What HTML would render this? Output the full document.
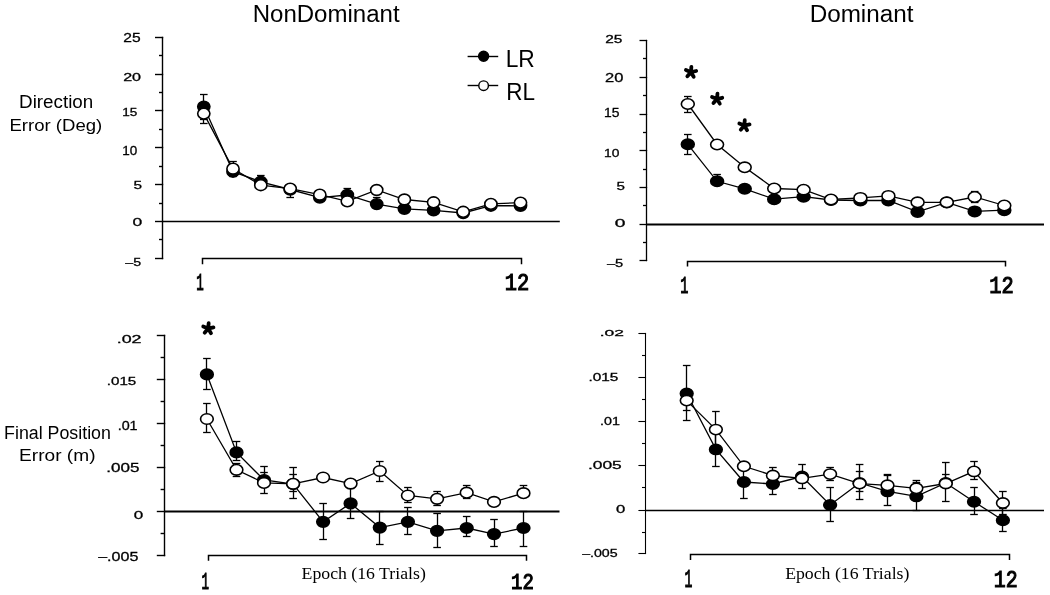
<!DOCTYPE html>
<html><head><meta charset="utf-8"><style>
html,body{margin:0;padding:0;background:#fff;width:1050px;height:595px;overflow:hidden}
svg{display:block;font-family:"Liberation Sans",sans-serif;will-change:transform}
</style></head><body>
<svg width="1050" height="595" viewBox="0 0 1050 595">
<g stroke="#000" stroke-linecap="butt">
<line x1="162.50" y1="36.80" x2="162.50" y2="259.20" stroke-width="1.4"/>
<line x1="155.00" y1="37.50" x2="163.20" y2="37.50" stroke-width="1.4"/>
<line x1="155.00" y1="74.50" x2="163.20" y2="74.50" stroke-width="1.4"/>
<line x1="155.00" y1="110.50" x2="163.20" y2="110.50" stroke-width="1.4"/>
<line x1="155.00" y1="147.50" x2="163.20" y2="147.50" stroke-width="1.4"/>
<line x1="155.00" y1="184.50" x2="163.20" y2="184.50" stroke-width="1.4"/>
<line x1="155.00" y1="221.50" x2="163.20" y2="221.50" stroke-width="1.4"/>
<line x1="155.00" y1="258.50" x2="163.20" y2="258.50" stroke-width="1.4"/>
<line x1="159.00" y1="55.50" x2="162.50" y2="55.50" stroke-width="1.4"/>
<line x1="159.00" y1="92.50" x2="162.50" y2="92.50" stroke-width="1.4"/>
<line x1="159.00" y1="129.50" x2="162.50" y2="129.50" stroke-width="1.4"/>
<line x1="159.00" y1="166.50" x2="162.50" y2="166.50" stroke-width="1.4"/>
<line x1="159.00" y1="203.50" x2="162.50" y2="203.50" stroke-width="1.4"/>
<line x1="159.00" y1="239.50" x2="162.50" y2="239.50" stroke-width="1.4"/>
<line x1="162.20" y1="221.50" x2="559.80" y2="221.50" stroke-width="1.7"/>
<polyline fill="none" stroke-width="1.5" points="202.50,264.30 202.50,258.50 521.50,258.50 521.50,264.30"/>
<polyline fill="none" stroke-width="1.3" points="203.80,106.60 233.00,171.70 260.80,181.80 290.20,189.50 319.80,197.60 347.30,195.00 376.70,204.10 404.40,208.80 433.60,210.30 463.20,213.00 490.90,205.70 520.50,205.80"/>
<polyline fill="none" stroke-width="1.3" points="203.80,113.60 233.00,168.70 260.80,185.20 290.20,188.60 319.80,194.70 347.30,201.30 376.70,190.00 404.40,199.50 433.60,202.30 463.20,211.80 490.90,203.90 520.50,202.60"/>
<line x1="203.50" y1="106.60" x2="203.50" y2="94.10" stroke-width="1.3"/>
<line x1="200.00" y1="94.50" x2="207.60" y2="94.50" stroke-width="1.3"/>
<line x1="203.50" y1="106.60" x2="203.50" y2="119.10" stroke-width="1.3"/>
<line x1="200.00" y1="119.50" x2="207.60" y2="119.50" stroke-width="1.3"/>
<line x1="203.50" y1="113.60" x2="203.50" y2="103.90" stroke-width="1.3"/>
<line x1="200.00" y1="103.50" x2="207.60" y2="103.50" stroke-width="1.3"/>
<line x1="203.50" y1="113.60" x2="203.50" y2="123.30" stroke-width="1.3"/>
<line x1="200.00" y1="123.50" x2="207.60" y2="123.50" stroke-width="1.3"/>
<line x1="233.50" y1="168.70" x2="233.50" y2="161.20" stroke-width="1.3"/>
<line x1="229.20" y1="161.50" x2="236.80" y2="161.50" stroke-width="1.3"/>
<line x1="233.50" y1="168.70" x2="233.50" y2="176.20" stroke-width="1.3"/>
<line x1="229.20" y1="176.50" x2="236.80" y2="176.50" stroke-width="1.3"/>
<line x1="260.50" y1="181.80" x2="260.50" y2="175.80" stroke-width="1.3"/>
<line x1="257.00" y1="175.50" x2="264.60" y2="175.50" stroke-width="1.3"/>
<line x1="260.50" y1="181.80" x2="260.50" y2="187.80" stroke-width="1.3"/>
<line x1="257.00" y1="187.50" x2="264.60" y2="187.50" stroke-width="1.3"/>
<line x1="290.50" y1="188.60" x2="290.50" y2="197.40" stroke-width="1.3"/>
<line x1="286.40" y1="197.50" x2="294.00" y2="197.50" stroke-width="1.3"/>
<line x1="347.50" y1="195.00" x2="347.50" y2="188.00" stroke-width="1.3"/>
<line x1="343.50" y1="188.50" x2="351.10" y2="188.50" stroke-width="1.3"/>
<line x1="347.50" y1="195.00" x2="347.50" y2="202.00" stroke-width="1.3"/>
<line x1="343.50" y1="202.50" x2="351.10" y2="202.50" stroke-width="1.3"/>
<line x1="376.50" y1="204.10" x2="376.50" y2="197.40" stroke-width="1.3"/>
<line x1="372.90" y1="197.50" x2="380.50" y2="197.50" stroke-width="1.3"/>
<ellipse cx="203.80" cy="106.60" rx="6.1" ry="5.4" fill="#000" stroke-width="1.6"/>
<ellipse cx="233.00" cy="171.70" rx="6.1" ry="5.4" fill="#000" stroke-width="1.6"/>
<ellipse cx="260.80" cy="181.80" rx="6.1" ry="5.4" fill="#000" stroke-width="1.6"/>
<ellipse cx="290.20" cy="189.50" rx="6.1" ry="5.4" fill="#000" stroke-width="1.6"/>
<ellipse cx="319.80" cy="197.60" rx="6.1" ry="5.4" fill="#000" stroke-width="1.6"/>
<ellipse cx="347.30" cy="195.00" rx="6.1" ry="5.4" fill="#000" stroke-width="1.6"/>
<ellipse cx="376.70" cy="204.10" rx="6.1" ry="5.4" fill="#000" stroke-width="1.6"/>
<ellipse cx="404.40" cy="208.80" rx="6.1" ry="5.4" fill="#000" stroke-width="1.6"/>
<ellipse cx="433.60" cy="210.30" rx="6.1" ry="5.4" fill="#000" stroke-width="1.6"/>
<ellipse cx="463.20" cy="213.00" rx="6.1" ry="5.4" fill="#000" stroke-width="1.6"/>
<ellipse cx="490.90" cy="205.70" rx="6.1" ry="5.4" fill="#000" stroke-width="1.6"/>
<ellipse cx="520.50" cy="205.80" rx="6.1" ry="5.4" fill="#000" stroke-width="1.6"/>
<ellipse cx="203.80" cy="113.60" rx="6.1" ry="5.4" fill="#fff" stroke-width="1.6"/>
<ellipse cx="233.00" cy="168.70" rx="6.1" ry="5.4" fill="#fff" stroke-width="1.6"/>
<ellipse cx="260.80" cy="185.20" rx="6.1" ry="5.4" fill="#fff" stroke-width="1.6"/>
<ellipse cx="290.20" cy="188.60" rx="6.1" ry="5.4" fill="#fff" stroke-width="1.6"/>
<ellipse cx="319.80" cy="194.70" rx="6.1" ry="5.4" fill="#fff" stroke-width="1.6"/>
<ellipse cx="347.30" cy="201.30" rx="6.1" ry="5.4" fill="#fff" stroke-width="1.6"/>
<ellipse cx="376.70" cy="190.00" rx="6.1" ry="5.4" fill="#fff" stroke-width="1.6"/>
<ellipse cx="404.40" cy="199.50" rx="6.1" ry="5.4" fill="#fff" stroke-width="1.6"/>
<ellipse cx="433.60" cy="202.30" rx="6.1" ry="5.4" fill="#fff" stroke-width="1.6"/>
<ellipse cx="463.20" cy="211.80" rx="6.1" ry="5.4" fill="#fff" stroke-width="1.6"/>
<ellipse cx="490.90" cy="203.90" rx="6.1" ry="5.4" fill="#fff" stroke-width="1.6"/>
<ellipse cx="520.50" cy="202.60" rx="6.1" ry="5.4" fill="#fff" stroke-width="1.6"/>
<line x1="467.60" y1="56.50" x2="498.20" y2="56.50" stroke-width="1.4"/>
<circle cx="483.6" cy="56.2" r="4.9" fill="#000" stroke-width="1.6"/>
<line x1="467.60" y1="85.50" x2="498.20" y2="85.50" stroke-width="1.4"/>
<circle cx="483.6" cy="85.7" r="4.8" fill="#fff" stroke-width="1.4"/>
<line x1="646.50" y1="39.85" x2="646.50" y2="261.15" stroke-width="1.3"/>
<line x1="639.50" y1="40.50" x2="647.15" y2="40.50" stroke-width="1.3"/>
<line x1="639.50" y1="77.50" x2="647.15" y2="77.50" stroke-width="1.3"/>
<line x1="639.50" y1="114.50" x2="647.15" y2="114.50" stroke-width="1.3"/>
<line x1="639.50" y1="150.50" x2="647.15" y2="150.50" stroke-width="1.3"/>
<line x1="639.50" y1="187.50" x2="647.15" y2="187.50" stroke-width="1.3"/>
<line x1="639.50" y1="224.50" x2="647.15" y2="224.50" stroke-width="1.3"/>
<line x1="639.50" y1="260.50" x2="647.15" y2="260.50" stroke-width="1.3"/>
<line x1="643.00" y1="58.50" x2="646.50" y2="58.50" stroke-width="1.3"/>
<line x1="643.00" y1="95.50" x2="646.50" y2="95.50" stroke-width="1.3"/>
<line x1="643.00" y1="132.50" x2="646.50" y2="132.50" stroke-width="1.3"/>
<line x1="643.00" y1="169.50" x2="646.50" y2="169.50" stroke-width="1.3"/>
<line x1="643.00" y1="205.50" x2="646.50" y2="205.50" stroke-width="1.3"/>
<line x1="643.00" y1="242.50" x2="646.50" y2="242.50" stroke-width="1.3"/>
<line x1="646.20" y1="224.50" x2="1044.00" y2="224.50" stroke-width="2.0"/>
<polyline fill="none" stroke-width="1.5" points="687.50,266.40 687.50,261.50 1005.50,261.50 1005.50,266.40"/>
<polyline fill="none" stroke-width="1.3" points="687.80,144.30 717.10,181.30 744.70,188.80 774.20,199.20 803.60,196.70 831.00,200.00 860.40,200.50 888.40,200.50 917.60,211.90 946.80,202.50 974.70,211.40 1004.30,210.20"/>
<polyline fill="none" stroke-width="1.3" points="687.80,104.00 717.10,144.50 744.70,167.30 774.20,188.50 803.60,189.70 831.00,199.50 860.40,197.90 888.40,195.90 917.60,202.30 946.80,202.30 974.70,197.00 1004.30,205.50"/>
<line x1="687.50" y1="144.30" x2="687.50" y2="134.40" stroke-width="1.3"/>
<line x1="684.00" y1="134.50" x2="691.60" y2="134.50" stroke-width="1.3"/>
<line x1="687.50" y1="144.30" x2="687.50" y2="154.30" stroke-width="1.3"/>
<line x1="684.00" y1="154.50" x2="691.60" y2="154.50" stroke-width="1.3"/>
<line x1="687.50" y1="104.00" x2="687.50" y2="96.30" stroke-width="1.3"/>
<line x1="684.00" y1="96.50" x2="691.60" y2="96.50" stroke-width="1.3"/>
<line x1="687.50" y1="104.00" x2="687.50" y2="112.90" stroke-width="1.3"/>
<line x1="684.00" y1="112.50" x2="691.60" y2="112.50" stroke-width="1.3"/>
<line x1="717.50" y1="181.30" x2="717.50" y2="174.50" stroke-width="1.3"/>
<line x1="713.30" y1="174.50" x2="720.90" y2="174.50" stroke-width="1.3"/>
<line x1="974.50" y1="197.00" x2="974.50" y2="191.20" stroke-width="1.3"/>
<line x1="970.90" y1="191.50" x2="978.50" y2="191.50" stroke-width="1.3"/>
<line x1="974.50" y1="197.00" x2="974.50" y2="202.80" stroke-width="1.3"/>
<line x1="970.90" y1="202.50" x2="978.50" y2="202.50" stroke-width="1.3"/>
<ellipse cx="687.80" cy="144.30" rx="6.45" ry="5.2" fill="#000" stroke-width="1.6"/>
<ellipse cx="717.10" cy="181.30" rx="6.45" ry="5.2" fill="#000" stroke-width="1.6"/>
<ellipse cx="744.70" cy="188.80" rx="6.45" ry="5.2" fill="#000" stroke-width="1.6"/>
<ellipse cx="774.20" cy="199.20" rx="6.45" ry="5.2" fill="#000" stroke-width="1.6"/>
<ellipse cx="803.60" cy="196.70" rx="6.45" ry="5.2" fill="#000" stroke-width="1.6"/>
<ellipse cx="831.00" cy="200.00" rx="6.45" ry="5.2" fill="#000" stroke-width="1.6"/>
<ellipse cx="860.40" cy="200.50" rx="6.45" ry="5.2" fill="#000" stroke-width="1.6"/>
<ellipse cx="888.40" cy="200.50" rx="6.45" ry="5.2" fill="#000" stroke-width="1.6"/>
<ellipse cx="917.60" cy="211.90" rx="6.45" ry="5.2" fill="#000" stroke-width="1.6"/>
<ellipse cx="946.80" cy="202.50" rx="6.45" ry="5.2" fill="#000" stroke-width="1.6"/>
<ellipse cx="974.70" cy="211.40" rx="6.45" ry="5.2" fill="#000" stroke-width="1.6"/>
<ellipse cx="1004.30" cy="210.20" rx="6.45" ry="5.2" fill="#000" stroke-width="1.6"/>
<ellipse cx="687.80" cy="104.00" rx="6.45" ry="5.2" fill="#fff" stroke-width="1.6"/>
<ellipse cx="717.10" cy="144.50" rx="6.45" ry="5.2" fill="#fff" stroke-width="1.6"/>
<ellipse cx="744.70" cy="167.30" rx="6.45" ry="5.2" fill="#fff" stroke-width="1.6"/>
<ellipse cx="774.20" cy="188.50" rx="6.45" ry="5.2" fill="#fff" stroke-width="1.6"/>
<ellipse cx="803.60" cy="189.70" rx="6.45" ry="5.2" fill="#fff" stroke-width="1.6"/>
<ellipse cx="831.00" cy="199.50" rx="6.45" ry="5.2" fill="#fff" stroke-width="1.6"/>
<ellipse cx="860.40" cy="197.90" rx="6.45" ry="5.2" fill="#fff" stroke-width="1.6"/>
<ellipse cx="888.40" cy="195.90" rx="6.45" ry="5.2" fill="#fff" stroke-width="1.6"/>
<ellipse cx="917.60" cy="202.30" rx="6.45" ry="5.2" fill="#fff" stroke-width="1.6"/>
<ellipse cx="946.80" cy="202.30" rx="6.45" ry="5.2" fill="#fff" stroke-width="1.6"/>
<ellipse cx="974.70" cy="197.00" rx="6.45" ry="5.2" fill="#fff" stroke-width="1.6"/>
<ellipse cx="1004.30" cy="205.50" rx="6.45" ry="5.2" fill="#fff" stroke-width="1.6"/>
<path d="M690.90,72.20L691.37,66.82M690.90,72.20L696.16,70.99M690.90,72.20L693.68,76.83M690.90,72.20L687.36,76.28M690.90,72.20L685.93,70.09" stroke-width="3.8" stroke-linecap="round" fill="none"/>
<path d="M717.00,99.00L717.47,93.62M717.00,99.00L722.26,97.79M717.00,99.00L719.78,103.63M717.00,99.00L713.46,103.08M717.00,99.00L712.03,96.89" stroke-width="3.8" stroke-linecap="round" fill="none"/>
<path d="M744.30,125.60L744.77,120.22M744.30,125.60L749.56,124.39M744.30,125.60L747.08,130.23M744.30,125.60L740.76,129.68M744.30,125.60L739.33,123.49" stroke-width="3.8" stroke-linecap="round" fill="none"/>
<line x1="164.50" y1="334.80" x2="164.50" y2="556.20" stroke-width="1.4"/>
<line x1="156.80" y1="335.50" x2="165.20" y2="335.50" stroke-width="1.4"/>
<line x1="156.80" y1="379.50" x2="165.20" y2="379.50" stroke-width="1.4"/>
<line x1="156.80" y1="423.50" x2="165.20" y2="423.50" stroke-width="1.4"/>
<line x1="156.80" y1="467.50" x2="165.20" y2="467.50" stroke-width="1.4"/>
<line x1="156.80" y1="511.50" x2="165.20" y2="511.50" stroke-width="1.4"/>
<line x1="156.80" y1="555.50" x2="165.20" y2="555.50" stroke-width="1.4"/>
<line x1="160.60" y1="357.50" x2="164.50" y2="357.50" stroke-width="1.4"/>
<line x1="160.60" y1="401.50" x2="164.50" y2="401.50" stroke-width="1.4"/>
<line x1="160.60" y1="445.50" x2="164.50" y2="445.50" stroke-width="1.4"/>
<line x1="160.60" y1="489.50" x2="164.50" y2="489.50" stroke-width="1.4"/>
<line x1="160.60" y1="533.50" x2="164.50" y2="533.50" stroke-width="1.4"/>
<line x1="164.00" y1="511.50" x2="559.50" y2="511.50" stroke-width="2.0"/>
<polyline fill="none" stroke-width="1.5" points="208.50,560.70 208.50,555.50 526.50,555.50 526.50,560.70"/>
<polyline fill="none" stroke-width="1.3" points="206.90,374.40 236.50,452.40 264.00,480.00 293.10,484.00 323.10,521.80 350.60,503.40 379.80,527.60 407.90,521.80 437.10,530.80 466.70,528.00 494.00,534.10 523.50,528.00"/>
<polyline fill="none" stroke-width="1.3" points="206.90,419.00 236.50,469.80 264.00,482.90 293.10,483.80 323.10,477.50 350.60,483.60 379.80,471.00 407.90,495.50 437.10,498.80 466.70,492.70 494.00,501.90 523.50,493.20"/>
<line x1="206.50" y1="374.40" x2="206.50" y2="358.10" stroke-width="1.3"/>
<line x1="203.10" y1="358.50" x2="210.70" y2="358.50" stroke-width="1.3"/>
<line x1="206.50" y1="374.40" x2="206.50" y2="389.00" stroke-width="1.3"/>
<line x1="203.10" y1="389.50" x2="210.70" y2="389.50" stroke-width="1.3"/>
<line x1="206.50" y1="419.00" x2="206.50" y2="403.40" stroke-width="1.3"/>
<line x1="203.10" y1="403.50" x2="210.70" y2="403.50" stroke-width="1.3"/>
<line x1="206.50" y1="419.00" x2="206.50" y2="432.00" stroke-width="1.3"/>
<line x1="203.10" y1="432.50" x2="210.70" y2="432.50" stroke-width="1.3"/>
<line x1="236.50" y1="452.40" x2="236.50" y2="441.40" stroke-width="1.3"/>
<line x1="232.70" y1="441.50" x2="240.30" y2="441.50" stroke-width="1.3"/>
<line x1="236.50" y1="452.40" x2="236.50" y2="460.00" stroke-width="1.3"/>
<line x1="232.70" y1="460.50" x2="240.30" y2="460.50" stroke-width="1.3"/>
<line x1="236.50" y1="469.80" x2="236.50" y2="463.40" stroke-width="1.3"/>
<line x1="232.70" y1="463.50" x2="240.30" y2="463.50" stroke-width="1.3"/>
<line x1="236.50" y1="469.80" x2="236.50" y2="476.20" stroke-width="1.3"/>
<line x1="232.70" y1="476.50" x2="240.30" y2="476.50" stroke-width="1.3"/>
<line x1="264.50" y1="480.00" x2="264.50" y2="466.10" stroke-width="1.3"/>
<line x1="260.20" y1="466.50" x2="267.80" y2="466.50" stroke-width="1.3"/>
<line x1="264.50" y1="480.00" x2="264.50" y2="493.00" stroke-width="1.3"/>
<line x1="260.20" y1="493.50" x2="267.80" y2="493.50" stroke-width="1.3"/>
<line x1="264.50" y1="482.90" x2="264.50" y2="472.00" stroke-width="1.3"/>
<line x1="260.20" y1="472.50" x2="267.80" y2="472.50" stroke-width="1.3"/>
<line x1="293.50" y1="484.00" x2="293.50" y2="474.00" stroke-width="1.3"/>
<line x1="289.30" y1="474.50" x2="296.90" y2="474.50" stroke-width="1.3"/>
<line x1="293.50" y1="484.00" x2="293.50" y2="491.00" stroke-width="1.3"/>
<line x1="289.30" y1="491.50" x2="296.90" y2="491.50" stroke-width="1.3"/>
<line x1="293.50" y1="483.80" x2="293.50" y2="467.80" stroke-width="1.3"/>
<line x1="289.30" y1="467.50" x2="296.90" y2="467.50" stroke-width="1.3"/>
<line x1="293.50" y1="483.80" x2="293.50" y2="498.90" stroke-width="1.3"/>
<line x1="289.30" y1="498.50" x2="296.90" y2="498.50" stroke-width="1.3"/>
<line x1="323.50" y1="521.80" x2="323.50" y2="503.00" stroke-width="1.3"/>
<line x1="319.30" y1="503.50" x2="326.90" y2="503.50" stroke-width="1.3"/>
<line x1="323.50" y1="521.80" x2="323.50" y2="539.40" stroke-width="1.3"/>
<line x1="319.30" y1="539.50" x2="326.90" y2="539.50" stroke-width="1.3"/>
<line x1="350.50" y1="503.40" x2="350.50" y2="488.70" stroke-width="1.3"/>
<line x1="346.80" y1="488.50" x2="354.40" y2="488.50" stroke-width="1.3"/>
<line x1="350.50" y1="503.40" x2="350.50" y2="518.90" stroke-width="1.3"/>
<line x1="346.80" y1="518.50" x2="354.40" y2="518.50" stroke-width="1.3"/>
<line x1="379.50" y1="527.60" x2="379.50" y2="511.30" stroke-width="1.3"/>
<line x1="376.00" y1="511.50" x2="383.60" y2="511.50" stroke-width="1.3"/>
<line x1="379.50" y1="527.60" x2="379.50" y2="544.10" stroke-width="1.3"/>
<line x1="376.00" y1="544.50" x2="383.60" y2="544.50" stroke-width="1.3"/>
<line x1="379.50" y1="471.00" x2="379.50" y2="461.40" stroke-width="1.3"/>
<line x1="376.00" y1="461.50" x2="383.60" y2="461.50" stroke-width="1.3"/>
<line x1="379.50" y1="471.00" x2="379.50" y2="481.10" stroke-width="1.3"/>
<line x1="376.00" y1="481.50" x2="383.60" y2="481.50" stroke-width="1.3"/>
<line x1="407.50" y1="521.80" x2="407.50" y2="507.00" stroke-width="1.3"/>
<line x1="404.10" y1="507.50" x2="411.70" y2="507.50" stroke-width="1.3"/>
<line x1="407.50" y1="521.80" x2="407.50" y2="534.90" stroke-width="1.3"/>
<line x1="404.10" y1="534.50" x2="411.70" y2="534.50" stroke-width="1.3"/>
<line x1="407.50" y1="495.50" x2="407.50" y2="487.40" stroke-width="1.3"/>
<line x1="404.10" y1="487.50" x2="411.70" y2="487.50" stroke-width="1.3"/>
<line x1="407.50" y1="495.50" x2="407.50" y2="502.50" stroke-width="1.3"/>
<line x1="404.10" y1="502.50" x2="411.70" y2="502.50" stroke-width="1.3"/>
<line x1="437.50" y1="530.80" x2="437.50" y2="513.10" stroke-width="1.3"/>
<line x1="433.30" y1="513.50" x2="440.90" y2="513.50" stroke-width="1.3"/>
<line x1="437.50" y1="530.80" x2="437.50" y2="547.20" stroke-width="1.3"/>
<line x1="433.30" y1="547.50" x2="440.90" y2="547.50" stroke-width="1.3"/>
<line x1="437.50" y1="498.80" x2="437.50" y2="491.90" stroke-width="1.3"/>
<line x1="433.30" y1="491.50" x2="440.90" y2="491.50" stroke-width="1.3"/>
<line x1="437.50" y1="498.80" x2="437.50" y2="505.60" stroke-width="1.3"/>
<line x1="433.30" y1="505.50" x2="440.90" y2="505.50" stroke-width="1.3"/>
<line x1="466.50" y1="528.00" x2="466.50" y2="516.60" stroke-width="1.3"/>
<line x1="462.90" y1="516.50" x2="470.50" y2="516.50" stroke-width="1.3"/>
<line x1="466.50" y1="528.00" x2="466.50" y2="536.60" stroke-width="1.3"/>
<line x1="462.90" y1="536.50" x2="470.50" y2="536.50" stroke-width="1.3"/>
<line x1="466.50" y1="492.70" x2="466.50" y2="485.60" stroke-width="1.3"/>
<line x1="462.90" y1="485.50" x2="470.50" y2="485.50" stroke-width="1.3"/>
<line x1="466.50" y1="492.70" x2="466.50" y2="498.00" stroke-width="1.3"/>
<line x1="462.90" y1="498.50" x2="470.50" y2="498.50" stroke-width="1.3"/>
<line x1="494.50" y1="534.10" x2="494.50" y2="519.20" stroke-width="1.3"/>
<line x1="490.20" y1="519.50" x2="497.80" y2="519.50" stroke-width="1.3"/>
<line x1="494.50" y1="534.10" x2="494.50" y2="546.00" stroke-width="1.3"/>
<line x1="490.20" y1="546.50" x2="497.80" y2="546.50" stroke-width="1.3"/>
<line x1="523.50" y1="528.00" x2="523.50" y2="511.00" stroke-width="1.3"/>
<line x1="519.70" y1="511.50" x2="527.30" y2="511.50" stroke-width="1.3"/>
<line x1="523.50" y1="528.00" x2="523.50" y2="546.20" stroke-width="1.3"/>
<line x1="519.70" y1="546.50" x2="527.30" y2="546.50" stroke-width="1.3"/>
<line x1="523.50" y1="493.20" x2="523.50" y2="485.50" stroke-width="1.3"/>
<line x1="519.70" y1="485.50" x2="527.30" y2="485.50" stroke-width="1.3"/>
<ellipse cx="206.90" cy="374.40" rx="6.35" ry="5.3" fill="#000" stroke-width="1.6"/>
<ellipse cx="236.50" cy="452.40" rx="6.35" ry="5.3" fill="#000" stroke-width="1.6"/>
<ellipse cx="264.00" cy="480.00" rx="6.35" ry="5.3" fill="#000" stroke-width="1.6"/>
<ellipse cx="293.10" cy="484.00" rx="6.35" ry="5.3" fill="#000" stroke-width="1.6"/>
<ellipse cx="323.10" cy="521.80" rx="6.35" ry="5.3" fill="#000" stroke-width="1.6"/>
<ellipse cx="350.60" cy="503.40" rx="6.35" ry="5.3" fill="#000" stroke-width="1.6"/>
<ellipse cx="379.80" cy="527.60" rx="6.35" ry="5.3" fill="#000" stroke-width="1.6"/>
<ellipse cx="407.90" cy="521.80" rx="6.35" ry="5.3" fill="#000" stroke-width="1.6"/>
<ellipse cx="437.10" cy="530.80" rx="6.35" ry="5.3" fill="#000" stroke-width="1.6"/>
<ellipse cx="466.70" cy="528.00" rx="6.35" ry="5.3" fill="#000" stroke-width="1.6"/>
<ellipse cx="494.00" cy="534.10" rx="6.35" ry="5.3" fill="#000" stroke-width="1.6"/>
<ellipse cx="523.50" cy="528.00" rx="6.35" ry="5.3" fill="#000" stroke-width="1.6"/>
<ellipse cx="206.90" cy="419.00" rx="6.35" ry="5.3" fill="#fff" stroke-width="1.6"/>
<ellipse cx="236.50" cy="469.80" rx="6.35" ry="5.3" fill="#fff" stroke-width="1.6"/>
<ellipse cx="264.00" cy="482.90" rx="6.35" ry="5.3" fill="#fff" stroke-width="1.6"/>
<ellipse cx="293.10" cy="483.80" rx="6.35" ry="5.3" fill="#fff" stroke-width="1.6"/>
<ellipse cx="323.10" cy="477.50" rx="6.35" ry="5.3" fill="#fff" stroke-width="1.6"/>
<ellipse cx="350.60" cy="483.60" rx="6.35" ry="5.3" fill="#fff" stroke-width="1.6"/>
<ellipse cx="379.80" cy="471.00" rx="6.35" ry="5.3" fill="#fff" stroke-width="1.6"/>
<ellipse cx="407.90" cy="495.50" rx="6.35" ry="5.3" fill="#fff" stroke-width="1.6"/>
<ellipse cx="437.10" cy="498.80" rx="6.35" ry="5.3" fill="#fff" stroke-width="1.6"/>
<ellipse cx="466.70" cy="492.70" rx="6.35" ry="5.3" fill="#fff" stroke-width="1.6"/>
<ellipse cx="494.00" cy="501.90" rx="6.35" ry="5.3" fill="#fff" stroke-width="1.6"/>
<ellipse cx="523.50" cy="493.20" rx="6.35" ry="5.3" fill="#fff" stroke-width="1.6"/>
<path d="M208.20,328.60L208.67,323.22M208.20,328.60L213.46,327.39M208.20,328.60L210.98,333.23M208.20,328.60L204.66,332.68M208.20,328.60L203.23,326.49" stroke-width="3.8" stroke-linecap="round" fill="none"/>
<line x1="645.50" y1="332.95" x2="645.50" y2="554.05" stroke-width="1.1"/>
<line x1="638.40" y1="333.50" x2="646.05" y2="333.50" stroke-width="1.1"/>
<line x1="638.40" y1="377.50" x2="646.05" y2="377.50" stroke-width="1.1"/>
<line x1="638.40" y1="421.50" x2="646.05" y2="421.50" stroke-width="1.1"/>
<line x1="638.40" y1="465.50" x2="646.05" y2="465.50" stroke-width="1.1"/>
<line x1="638.40" y1="510.50" x2="646.05" y2="510.50" stroke-width="1.1"/>
<line x1="638.40" y1="553.50" x2="646.05" y2="553.50" stroke-width="1.1"/>
<line x1="642.00" y1="355.50" x2="645.50" y2="355.50" stroke-width="1.1"/>
<line x1="642.00" y1="399.50" x2="645.50" y2="399.50" stroke-width="1.1"/>
<line x1="642.00" y1="443.50" x2="645.50" y2="443.50" stroke-width="1.1"/>
<line x1="642.00" y1="487.50" x2="645.50" y2="487.50" stroke-width="1.1"/>
<line x1="642.00" y1="532.50" x2="645.50" y2="532.50" stroke-width="1.1"/>
<line x1="645.50" y1="510.50" x2="1044.00" y2="510.50" stroke-width="1.3"/>
<polyline fill="none" stroke-width="1.5" points="690.50,559.90 690.50,554.50 1009.50,554.50 1009.50,559.90"/>
<polyline fill="none" stroke-width="1.3" points="686.70,393.50 715.90,449.40 743.90,482.00 772.90,484.00 802.00,476.50 830.10,505.00 859.60,483.00 887.50,491.40 916.40,496.40 945.80,483.00 974.00,501.70 1002.90,520.20"/>
<polyline fill="none" stroke-width="1.3" points="686.70,400.60 715.90,429.60 743.90,466.30 772.90,475.50 802.00,478.40 830.10,474.10 859.60,483.60 887.50,485.30 916.40,488.30 945.80,483.50 974.00,471.40 1002.90,503.00"/>
<line x1="686.50" y1="393.50" x2="686.50" y2="365.50" stroke-width="1.3"/>
<line x1="682.90" y1="365.50" x2="690.50" y2="365.50" stroke-width="1.3"/>
<line x1="686.50" y1="393.50" x2="686.50" y2="420.80" stroke-width="1.3"/>
<line x1="682.90" y1="420.50" x2="690.50" y2="420.50" stroke-width="1.3"/>
<line x1="686.50" y1="400.60" x2="686.50" y2="390.40" stroke-width="1.3"/>
<line x1="682.90" y1="390.50" x2="690.50" y2="390.50" stroke-width="1.3"/>
<line x1="686.50" y1="400.60" x2="686.50" y2="410.80" stroke-width="1.3"/>
<line x1="682.90" y1="410.50" x2="690.50" y2="410.50" stroke-width="1.3"/>
<line x1="715.50" y1="449.40" x2="715.50" y2="432.80" stroke-width="1.3"/>
<line x1="712.10" y1="432.50" x2="719.70" y2="432.50" stroke-width="1.3"/>
<line x1="715.50" y1="449.40" x2="715.50" y2="466.00" stroke-width="1.3"/>
<line x1="712.10" y1="466.50" x2="719.70" y2="466.50" stroke-width="1.3"/>
<line x1="715.50" y1="429.60" x2="715.50" y2="411.90" stroke-width="1.3"/>
<line x1="712.10" y1="411.50" x2="719.70" y2="411.50" stroke-width="1.3"/>
<line x1="715.50" y1="429.60" x2="715.50" y2="447.30" stroke-width="1.3"/>
<line x1="712.10" y1="447.50" x2="719.70" y2="447.50" stroke-width="1.3"/>
<line x1="743.50" y1="482.00" x2="743.50" y2="466.00" stroke-width="1.3"/>
<line x1="740.10" y1="466.50" x2="747.70" y2="466.50" stroke-width="1.3"/>
<line x1="743.50" y1="482.00" x2="743.50" y2="498.00" stroke-width="1.3"/>
<line x1="740.10" y1="498.50" x2="747.70" y2="498.50" stroke-width="1.3"/>
<line x1="772.50" y1="484.00" x2="772.50" y2="473.40" stroke-width="1.3"/>
<line x1="769.10" y1="473.50" x2="776.70" y2="473.50" stroke-width="1.3"/>
<line x1="772.50" y1="484.00" x2="772.50" y2="494.60" stroke-width="1.3"/>
<line x1="769.10" y1="494.50" x2="776.70" y2="494.50" stroke-width="1.3"/>
<line x1="772.50" y1="475.50" x2="772.50" y2="467.50" stroke-width="1.3"/>
<line x1="769.10" y1="467.50" x2="776.70" y2="467.50" stroke-width="1.3"/>
<line x1="772.50" y1="475.50" x2="772.50" y2="483.50" stroke-width="1.3"/>
<line x1="769.10" y1="483.50" x2="776.70" y2="483.50" stroke-width="1.3"/>
<line x1="802.50" y1="478.40" x2="802.50" y2="464.40" stroke-width="1.3"/>
<line x1="798.20" y1="464.50" x2="805.80" y2="464.50" stroke-width="1.3"/>
<line x1="802.50" y1="478.40" x2="802.50" y2="488.70" stroke-width="1.3"/>
<line x1="798.20" y1="488.50" x2="805.80" y2="488.50" stroke-width="1.3"/>
<line x1="830.50" y1="505.00" x2="830.50" y2="487.60" stroke-width="1.3"/>
<line x1="826.30" y1="487.50" x2="833.90" y2="487.50" stroke-width="1.3"/>
<line x1="830.50" y1="505.00" x2="830.50" y2="521.20" stroke-width="1.3"/>
<line x1="826.30" y1="521.50" x2="833.90" y2="521.50" stroke-width="1.3"/>
<line x1="830.50" y1="474.10" x2="830.50" y2="467.40" stroke-width="1.3"/>
<line x1="826.30" y1="467.50" x2="833.90" y2="467.50" stroke-width="1.3"/>
<line x1="830.50" y1="474.10" x2="830.50" y2="480.80" stroke-width="1.3"/>
<line x1="826.30" y1="480.50" x2="833.90" y2="480.50" stroke-width="1.3"/>
<line x1="859.50" y1="483.00" x2="859.50" y2="464.40" stroke-width="1.3"/>
<line x1="855.80" y1="464.50" x2="863.40" y2="464.50" stroke-width="1.3"/>
<line x1="859.50" y1="483.00" x2="859.50" y2="499.20" stroke-width="1.3"/>
<line x1="855.80" y1="499.50" x2="863.40" y2="499.50" stroke-width="1.3"/>
<line x1="859.50" y1="483.60" x2="859.50" y2="471.90" stroke-width="1.3"/>
<line x1="855.80" y1="471.50" x2="863.40" y2="471.50" stroke-width="1.3"/>
<line x1="859.50" y1="483.60" x2="859.50" y2="491.80" stroke-width="1.3"/>
<line x1="855.80" y1="491.50" x2="863.40" y2="491.50" stroke-width="1.3"/>
<line x1="887.50" y1="491.40" x2="887.50" y2="475.30" stroke-width="1.3"/>
<line x1="883.70" y1="475.50" x2="891.30" y2="475.50" stroke-width="1.3"/>
<line x1="887.50" y1="491.40" x2="887.50" y2="505.50" stroke-width="1.3"/>
<line x1="883.70" y1="505.50" x2="891.30" y2="505.50" stroke-width="1.3"/>
<line x1="887.50" y1="485.30" x2="887.50" y2="474.10" stroke-width="1.3"/>
<line x1="883.70" y1="474.50" x2="891.30" y2="474.50" stroke-width="1.3"/>
<line x1="887.50" y1="485.30" x2="887.50" y2="495.90" stroke-width="1.3"/>
<line x1="883.70" y1="495.50" x2="891.30" y2="495.50" stroke-width="1.3"/>
<line x1="916.50" y1="496.40" x2="916.50" y2="482.60" stroke-width="1.3"/>
<line x1="912.60" y1="482.50" x2="920.20" y2="482.50" stroke-width="1.3"/>
<line x1="916.50" y1="496.40" x2="916.50" y2="510.00" stroke-width="1.3"/>
<line x1="912.60" y1="510.50" x2="920.20" y2="510.50" stroke-width="1.3"/>
<line x1="916.50" y1="488.30" x2="916.50" y2="480.30" stroke-width="1.3"/>
<line x1="912.60" y1="480.50" x2="920.20" y2="480.50" stroke-width="1.3"/>
<line x1="916.50" y1="488.30" x2="916.50" y2="495.50" stroke-width="1.3"/>
<line x1="912.60" y1="495.50" x2="920.20" y2="495.50" stroke-width="1.3"/>
<line x1="945.50" y1="483.00" x2="945.50" y2="474.80" stroke-width="1.3"/>
<line x1="942.00" y1="474.50" x2="949.60" y2="474.50" stroke-width="1.3"/>
<line x1="945.50" y1="483.50" x2="945.50" y2="462.70" stroke-width="1.3"/>
<line x1="942.00" y1="462.50" x2="949.60" y2="462.50" stroke-width="1.3"/>
<line x1="945.50" y1="483.50" x2="945.50" y2="501.00" stroke-width="1.3"/>
<line x1="942.00" y1="501.50" x2="949.60" y2="501.50" stroke-width="1.3"/>
<line x1="974.50" y1="501.70" x2="974.50" y2="487.50" stroke-width="1.3"/>
<line x1="970.20" y1="487.50" x2="977.80" y2="487.50" stroke-width="1.3"/>
<line x1="974.50" y1="501.70" x2="974.50" y2="514.80" stroke-width="1.3"/>
<line x1="970.20" y1="514.50" x2="977.80" y2="514.50" stroke-width="1.3"/>
<line x1="974.50" y1="471.40" x2="974.50" y2="461.30" stroke-width="1.3"/>
<line x1="970.20" y1="461.50" x2="977.80" y2="461.50" stroke-width="1.3"/>
<line x1="974.50" y1="471.40" x2="974.50" y2="479.50" stroke-width="1.3"/>
<line x1="970.20" y1="479.50" x2="977.80" y2="479.50" stroke-width="1.3"/>
<line x1="1002.50" y1="520.20" x2="1002.50" y2="508.90" stroke-width="1.3"/>
<line x1="999.10" y1="508.50" x2="1006.70" y2="508.50" stroke-width="1.3"/>
<line x1="1002.50" y1="520.20" x2="1002.50" y2="531.50" stroke-width="1.3"/>
<line x1="999.10" y1="531.50" x2="1006.70" y2="531.50" stroke-width="1.3"/>
<line x1="1002.50" y1="503.00" x2="1002.50" y2="491.60" stroke-width="1.3"/>
<line x1="999.10" y1="491.50" x2="1006.70" y2="491.50" stroke-width="1.3"/>
<line x1="1002.50" y1="503.00" x2="1002.50" y2="514.40" stroke-width="1.3"/>
<line x1="999.10" y1="514.50" x2="1006.70" y2="514.50" stroke-width="1.3"/>
<ellipse cx="686.70" cy="393.50" rx="6.35" ry="5.15" fill="#000" stroke-width="1.6"/>
<ellipse cx="715.90" cy="449.40" rx="6.35" ry="5.15" fill="#000" stroke-width="1.6"/>
<ellipse cx="743.90" cy="482.00" rx="6.35" ry="5.15" fill="#000" stroke-width="1.6"/>
<ellipse cx="772.90" cy="484.00" rx="6.35" ry="5.15" fill="#000" stroke-width="1.6"/>
<ellipse cx="802.00" cy="476.50" rx="6.35" ry="5.15" fill="#000" stroke-width="1.6"/>
<ellipse cx="830.10" cy="505.00" rx="6.35" ry="5.15" fill="#000" stroke-width="1.6"/>
<ellipse cx="859.60" cy="483.00" rx="6.35" ry="5.15" fill="#000" stroke-width="1.6"/>
<ellipse cx="887.50" cy="491.40" rx="6.35" ry="5.15" fill="#000" stroke-width="1.6"/>
<ellipse cx="916.40" cy="496.40" rx="6.35" ry="5.15" fill="#000" stroke-width="1.6"/>
<ellipse cx="945.80" cy="483.00" rx="6.35" ry="5.15" fill="#000" stroke-width="1.6"/>
<ellipse cx="974.00" cy="501.70" rx="6.35" ry="5.15" fill="#000" stroke-width="1.6"/>
<ellipse cx="1002.90" cy="520.20" rx="6.35" ry="5.15" fill="#000" stroke-width="1.6"/>
<ellipse cx="686.70" cy="400.60" rx="6.35" ry="5.15" fill="#fff" stroke-width="1.6"/>
<ellipse cx="715.90" cy="429.60" rx="6.35" ry="5.15" fill="#fff" stroke-width="1.6"/>
<ellipse cx="743.90" cy="466.30" rx="6.35" ry="5.15" fill="#fff" stroke-width="1.6"/>
<ellipse cx="772.90" cy="475.50" rx="6.35" ry="5.15" fill="#fff" stroke-width="1.6"/>
<ellipse cx="802.00" cy="478.40" rx="6.35" ry="5.15" fill="#fff" stroke-width="1.6"/>
<ellipse cx="830.10" cy="474.10" rx="6.35" ry="5.15" fill="#fff" stroke-width="1.6"/>
<ellipse cx="859.60" cy="483.60" rx="6.35" ry="5.15" fill="#fff" stroke-width="1.6"/>
<ellipse cx="887.50" cy="485.30" rx="6.35" ry="5.15" fill="#fff" stroke-width="1.6"/>
<ellipse cx="916.40" cy="488.30" rx="6.35" ry="5.15" fill="#fff" stroke-width="1.6"/>
<ellipse cx="945.80" cy="483.50" rx="6.35" ry="5.15" fill="#fff" stroke-width="1.6"/>
<ellipse cx="974.00" cy="471.40" rx="6.35" ry="5.15" fill="#fff" stroke-width="1.6"/>
<ellipse cx="1002.90" cy="503.00" rx="6.35" ry="5.15" fill="#fff" stroke-width="1.6"/>
</g>
<g fill="#000">
<text x="123.37" y="42.12" font-family="Liberation Sans" font-weight="normal" font-size="12.82" textLength="17.34" lengthAdjust="spacingAndGlyphs" stroke="#000" stroke-width="0.3">25</text>
<text x="123.15" y="81.24" font-family="Liberation Sans" font-weight="normal" font-size="11.41" textLength="17.91" lengthAdjust="spacingAndGlyphs" stroke="#000" stroke-width="0.3">20</text>
<text x="122.23" y="115.54" font-family="Liberation Sans" font-weight="normal" font-size="10.86" textLength="15.09" lengthAdjust="spacingAndGlyphs" stroke="#000" stroke-width="0.3">15</text>
<text x="122.24" y="154.73" font-family="Liberation Sans" font-weight="normal" font-size="12.25" textLength="15.02" lengthAdjust="spacingAndGlyphs" stroke="#000" stroke-width="0.3">10</text>
<text x="133.54" y="189.03" font-family="Liberation Sans" font-weight="normal" font-size="11.57" textLength="8.55" lengthAdjust="spacingAndGlyphs" stroke="#000" stroke-width="0.3">5</text>
<text x="132.45" y="226.04" font-family="Liberation Sans" font-weight="normal" font-size="11.41" textLength="9.72" lengthAdjust="spacingAndGlyphs" stroke="#000" stroke-width="0.3">0</text>
<text x="125.25" y="265.53" font-family="Liberation Sans" font-weight="normal" font-size="11.57" textLength="15.80" lengthAdjust="spacingAndGlyphs" stroke="#000" stroke-width="0.3">–5</text>
<text x="605.28" y="42.94" font-family="Liberation Sans" font-weight="normal" font-size="11.13" textLength="17.12" lengthAdjust="spacingAndGlyphs" stroke="#000" stroke-width="0.3">25</text>
<text x="605.13" y="82.33" font-family="Liberation Sans" font-weight="normal" font-size="12.39" textLength="18.34" lengthAdjust="spacingAndGlyphs" stroke="#000" stroke-width="0.3">20</text>
<text x="604.11" y="116.82" font-family="Liberation Sans" font-weight="normal" font-size="12.57" textLength="15.43" lengthAdjust="spacingAndGlyphs" stroke="#000" stroke-width="0.3">15</text>
<text x="604.01" y="156.73" font-family="Liberation Sans" font-weight="normal" font-size="11.69" textLength="15.35" lengthAdjust="spacingAndGlyphs" stroke="#000" stroke-width="0.3">10</text>
<text x="616.44" y="190.43" font-family="Liberation Sans" font-weight="normal" font-size="11.71" textLength="8.43" lengthAdjust="spacingAndGlyphs" stroke="#000" stroke-width="0.3">5</text>
<text x="614.88" y="227.34" font-family="Liberation Sans" font-weight="normal" font-size="11.13" textLength="10.66" lengthAdjust="spacingAndGlyphs" stroke="#000" stroke-width="0.3">0</text>
<text x="606.95" y="267.34" font-family="Liberation Sans" font-weight="normal" font-size="11.29" textLength="16.32" lengthAdjust="spacingAndGlyphs" stroke="#000" stroke-width="0.3">–5</text>
<text x="116.74" y="342.94" font-family="Liberation Sans" font-weight="normal" font-size="11.41" textLength="24.80" lengthAdjust="spacingAndGlyphs" stroke="#000" stroke-width="0.3">.02</text>
<text x="106.79" y="384.94" font-family="Liberation Sans" font-weight="normal" font-size="11.13" textLength="29.49" lengthAdjust="spacingAndGlyphs" stroke="#000" stroke-width="0.3">.015</text>
<text x="117.66" y="429.53" font-family="Liberation Sans" font-weight="normal" font-size="12.25" textLength="19.91" lengthAdjust="spacingAndGlyphs" stroke="#000" stroke-width="0.3">.01</text>
<text x="106.22" y="472.13" font-family="Liberation Sans" font-weight="normal" font-size="12.11" textLength="33.14" lengthAdjust="spacingAndGlyphs" stroke="#000" stroke-width="0.3">.005</text>
<text x="133.77" y="519.23" font-family="Liberation Sans" font-weight="normal" font-size="11.69" textLength="9.48" lengthAdjust="spacingAndGlyphs" stroke="#000" stroke-width="0.3">0</text>
<text x="98.15" y="561.23" font-family="Liberation Sans" font-weight="normal" font-size="12.25" textLength="40.18" lengthAdjust="spacingAndGlyphs" stroke="#000" stroke-width="0.3">–.005</text>
<text x="599.78" y="335.85" font-family="Liberation Sans" font-weight="normal" font-size="9.58" textLength="24.24" lengthAdjust="spacingAndGlyphs" stroke="#000" stroke-width="0.3">.02</text>
<text x="588.47" y="380.64" font-family="Liberation Sans" font-weight="normal" font-size="10.99" textLength="29.92" lengthAdjust="spacingAndGlyphs" stroke="#000" stroke-width="0.3">.015</text>
<text x="600.07" y="424.94" font-family="Liberation Sans" font-weight="normal" font-size="10.99" textLength="19.80" lengthAdjust="spacingAndGlyphs" stroke="#000" stroke-width="0.3">.01</text>
<text x="587.99" y="468.54" font-family="Liberation Sans" font-weight="normal" font-size="11.13" textLength="33.78" lengthAdjust="spacingAndGlyphs" stroke="#000" stroke-width="0.3">.005</text>
<text x="615.98" y="513.24" font-family="Liberation Sans" font-weight="normal" font-size="11.13" textLength="9.25" lengthAdjust="spacingAndGlyphs" stroke="#000" stroke-width="0.3">0</text>
<text x="582.15" y="556.74" font-family="Liberation Sans" font-weight="normal" font-size="11.13" textLength="35.50" lengthAdjust="spacingAndGlyphs" stroke="#000" stroke-width="0.3">–.005</text>
<text x="196.28" y="290.45" font-family="Liberation Mono" font-weight="normal" font-size="23.64" textLength="7.50" lengthAdjust="spacingAndGlyphs" stroke="#000" stroke-width="1.1">1</text>
<text x="504.82" y="290.45" font-family="Liberation Mono" font-weight="normal" font-size="24.03" textLength="24.46" lengthAdjust="spacingAndGlyphs" stroke="#000" stroke-width="1.1">12</text>
<text x="680.30" y="292.95" font-family="Liberation Mono" font-weight="normal" font-size="23.64" textLength="8.13" lengthAdjust="spacingAndGlyphs" stroke="#000" stroke-width="1.1">1</text>
<text x="989.32" y="292.65" font-family="Liberation Mono" font-weight="normal" font-size="23.43" textLength="24.46" lengthAdjust="spacingAndGlyphs" stroke="#000" stroke-width="1.1">12</text>
<text x="201.38" y="589.45" font-family="Liberation Mono" font-weight="normal" font-size="23.94" textLength="7.50" lengthAdjust="spacingAndGlyphs" stroke="#000" stroke-width="1.1">1</text>
<text x="511.02" y="589.25" font-family="Liberation Mono" font-weight="normal" font-size="22.09" textLength="22.76" lengthAdjust="spacingAndGlyphs" stroke="#000" stroke-width="1.1">12</text>
<text x="684.43" y="587.05" font-family="Liberation Mono" font-weight="normal" font-size="25.00" textLength="7.88" lengthAdjust="spacingAndGlyphs" stroke="#000" stroke-width="1.1">1</text>
<text x="993.86" y="587.05" font-family="Liberation Mono" font-weight="normal" font-size="24.63" textLength="23.89" lengthAdjust="spacingAndGlyphs" stroke="#000" stroke-width="1.1">12</text>
<text x="252.68" y="22.30" font-family="Liberation Sans" font-weight="normal" font-size="23.62" textLength="146.95" lengthAdjust="spacingAndGlyphs">NonDominant</text>
<text x="809.66" y="22.00" font-family="Liberation Sans" font-weight="normal" font-size="23.77" textLength="103.76" lengthAdjust="spacingAndGlyphs">Dominant</text>
<text x="19.10" y="108.40" font-family="Liberation Sans" font-weight="normal" font-size="18.12" textLength="74.14" lengthAdjust="spacingAndGlyphs">Direction</text>
<text x="9.42" y="130.70" font-family="Liberation Sans" font-weight="normal" font-size="17.39" textLength="92.81" lengthAdjust="spacingAndGlyphs">Error (Deg)</text>
<text x="4.08" y="438.80" font-family="Liberation Sans" font-weight="normal" font-size="18.41" textLength="106.83" lengthAdjust="spacingAndGlyphs">Final Position</text>
<text x="19.07" y="460.70" font-family="Liberation Sans" font-weight="normal" font-size="17.10" textLength="76.45" lengthAdjust="spacingAndGlyphs">Error (m)</text>
<text x="505.68" y="67.30" font-family="Liberation Sans" font-weight="normal" font-size="24.49" textLength="29.12" lengthAdjust="spacingAndGlyphs">LR</text>
<text x="506.20" y="99.90" font-family="Liberation Sans" font-weight="normal" font-size="24.20" textLength="28.75" lengthAdjust="spacingAndGlyphs">RL</text>
<text x="301.57" y="579.30" font-family="Liberation Serif" font-weight="normal" font-size="17.40" textLength="124.23" lengthAdjust="spacingAndGlyphs">Epoch (16 Trials)</text>
<text x="785.17" y="579.30" font-family="Liberation Serif" font-weight="normal" font-size="17.40" textLength="124.23" lengthAdjust="spacingAndGlyphs">Epoch (16 Trials)</text>
</g>
</svg>
</body></html>
